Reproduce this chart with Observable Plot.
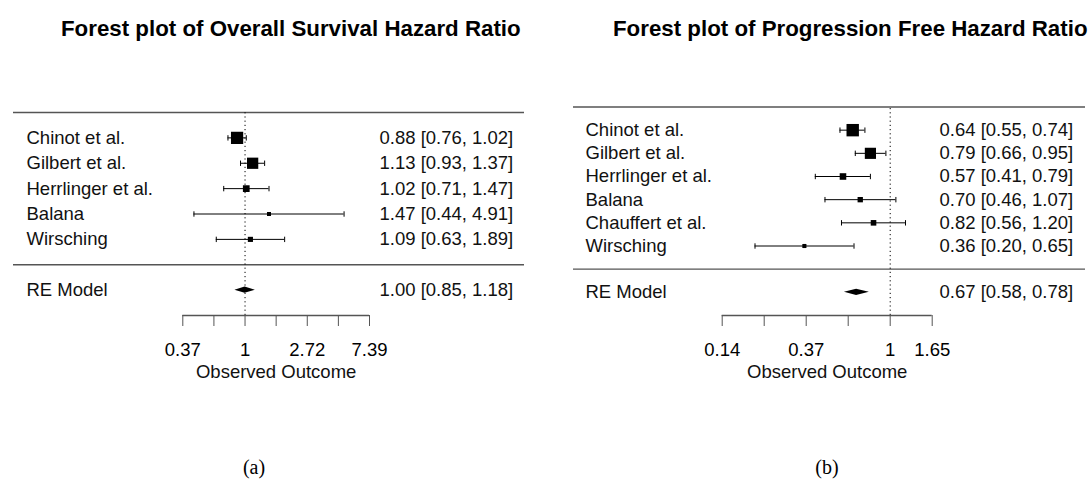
<!DOCTYPE html>
<html><head><meta charset="utf-8">
<script src="https://cdn.jsdelivr.net/npm/d3@7"></script>
<script src="https://cdn.jsdelivr.net/npm/@observablehq/plot@0.6"></script>
<style>
html,body{margin:0;padding:0;background:#fff;overflow:hidden}
#wrap{position:relative;width:1091px;height:479px;overflow:hidden;background:#fff;font-family:"Liberation Sans",Arial,Helvetica,sans-serif}
.panel{position:absolute;top:0}
.title{position:absolute;top:18px;font-weight:bold;font-size:22.3px;line-height:1;white-space:nowrap;color:#000}
.cap{position:absolute;top:457px;width:100px;text-align:center;font-family:"Liberation Serif","DejaVu Serif",serif;font-size:20px;line-height:1;color:#000}
g[aria-label="x-axis tick"]{stroke:#555}
</style></head><body><div id="wrap"></div>
<script>
// ---------- data: panel (a) Overall Survival ----------
const osTitle = "Forest plot of Overall Survival Hazard Ratio";
const osStudies = ["Chinot et al.", "Gilbert et al.", "Herrlinger et al.", "Balana", "Wirsching"];
const osHR    = [0.88, 1.13, 1.02, 1.47, 1.09];
const osLower = [0.76, 0.93, 0.71, 0.44, 0.63];
const osUpper = [1.02, 1.37, 1.47, 4.91, 1.89];
const osWeight = [1.00, 0.92, 0.55, 0.33, 0.42];   // relative square size
const osRE = {label: "RE Model", hr: 1.00, lo: 0.85, hi: 1.18};
const osTicks = [-1, -0.5, 0, 0.5, 1, 1.5, 2];     // natural-log scale
const osTickLabels = ["0.37", "", "1", "", "2.72", "", "7.39"];

// ---------- data: panel (b) Progression Free ----------
const pfTitle = "Forest plot of Progression Free Hazard Ratio";
const pfStudies = ["Chinot et al.", "Gilbert et al.", "Herrlinger et al.", "Balana", "Chauffert et al.", "Wirsching"];
const pfHR    = [0.64, 0.79, 0.57, 0.70, 0.82, 0.36];
const pfLower = [0.55, 0.66, 0.41, 0.46, 0.56, 0.20];
const pfUpper = [0.74, 0.95, 0.79, 1.07, 1.20, 0.65];
const pfWeight = [1.00, 0.90, 0.53, 0.43, 0.45, 0.33];
const pfRE = {label: "RE Model", hr: 0.67, lo: 0.58, hi: 0.78};
const pfTicks = [-2, -1.5, -1, -0.5, 0, 0.5];
const pfTickLabels = ["0.14", "", "0.37", "", "1", "1.65"];

const axisTitle = "Observed Outcome";
const captions = ["(a)", "(b)"];

const fmt = d3.format(".2f");
const capSymbol = {draw(ctx, size) { const h = Math.sqrt(size / Math.PI); ctx.moveTo(0, -h); ctx.lineTo(0, h); }};

function panel(cfg) {
  const k = cfg.studies.length;
  const rows = cfg.studies.map((s, i) => ({name: s, hr: cfg.hr[i], lo: cfg.lo[i], hi: cfg.hi[i], w: cfg.w[i], row: k - i}));
  const re = {name: cfg.re.label, hr: cfg.re.hr, lo: cfg.re.lo, hi: cfg.re.hi, row: -1};
  const all = rows.concat([re]);
  const h = cfg.diamondHalf;
  const diamond = [
    {x: Math.log(re.lo), y1: -1, y2: -1},
    {x: Math.log(re.hr), y1: -1 - h, y2: -1 + h},
    {x: Math.log(re.hi), y1: -1, y2: -1}
  ];
  const t0 = cfg.ticks[0], t1 = cfg.ticks[cfg.ticks.length - 1];
  return Plot.plot({
    width: cfg.width, height: 479,
    marginLeft: cfg.marginLeft, marginRight: cfg.marginRight, marginTop: cfg.marginTop, marginBottom: 164,
    style: {fontFamily: "Liberation Sans, Arial, Helvetica, sans-serif", fontSize: "18.5px", color: "#000", background: "transparent", overflow: "visible"},
    x: {domain: [t0, t1], range: cfg.xRange, ticks: cfg.ticks, tickFormat: d => cfg.tickLabels[cfg.ticks.indexOf(d)], tickSize: 11, tickPadding: 16, label: null},
    y: {domain: [-2, k + 1], axis: null},
    r: {type: "linear", domain: [0, 1], range: [0, cfg.rMax]},
    marks: [
      Plot.ruleY([k + 1, 0], {stroke: "#555", strokeWidth: 1.3}),
      Plot.ruleX([0], {x: d => d, y1: -2, y2: k + 1, stroke: "#000", strokeDasharray: "1.2,3"}),
      Plot.ruleY(rows, {y: "row", x1: d => Math.log(d.lo), x2: d => Math.log(d.hi), stroke: "#000", strokeWidth: 1}),
      Plot.dot(rows, {x: d => Math.log(d.lo), y: "row", symbol: capSymbol, r: 2.7, stroke: "#000", fill: "none", strokeWidth: 1}),
      Plot.dot(rows, {x: d => Math.log(d.hi), y: "row", symbol: capSymbol, r: 2.7, stroke: "#000", fill: "none", strokeWidth: 1}),
      Plot.dot(rows, {x: d => Math.log(d.hr), y: "row", r: "w", symbol: "square", fill: "#000", stroke: "none"}),
      Plot.areaY(diamond, {x: "x", y1: "y1", y2: "y2", fill: "#000", curve: "linear"}),
      Plot.text(all, {y: "row", text: "name", frameAnchor: "left", textAnchor: "start", dx: cfg.labelDx, fill: "#111"}),
      Plot.text(all, {y: "row", text: d => `${fmt(d.hr)} [${fmt(d.lo)}, ${fmt(d.hi)}]`, frameAnchor: "right", textAnchor: "end", dx: cfg.valueDx, fill: "#111"}),
      Plot.ruleY([-2], {x1: t0, x2: t1, stroke: "#555", strokeWidth: 1.3}),
      Plot.text([axisTitle], {x: (t0 + t1) / 2, text: d => d, frameAnchor: "bottom", lineAnchor: "middle", dy: 57, fill: "#111"})
    ]
  });
}

const wrap = document.getElementById("wrap");
function place(node, left, width) {
  const div = document.createElement("div");
  div.className = "panel";
  div.style.left = left + "px";
  div.style.width = width + "px";
  div.appendChild(node);
  wrap.appendChild(div);
}

place(panel({studies: osStudies, hr: osHR, lo: osLower, hi: osUpper, w: osWeight, re: osRE,
  ticks: osTicks, tickLabels: osTickLabels, width: 545, marginLeft: 13, marginRight: 21, marginTop: 112,
  xRange: [182.3, 369], rMax: 6.9, labelDx: 13, valueDx: -11.3, diamondHalf: 0.126}), 0, 545);

place(panel({studies: pfStudies, hr: pfHR, lo: pfLower, hi: pfUpper, w: pfWeight, re: pfRE,
  ticks: pfTicks, tickLabels: pfTickLabels, width: 546, marginLeft: 28, marginRight: 6, marginTop: 106.5,
  xRange: [176.7, 386.7], rMax: 7.0, labelDx: 12, valueDx: -12.3, diamondHalf: 0.138}), 545, 546);

function addDiv(cls, text, left) {
  const d = document.createElement("div");
  d.className = cls; d.textContent = text; d.style.left = left + "px";
  wrap.appendChild(d);
}
addDiv("title", osTitle, 61);
addDiv("title", pfTitle, 613);
addDiv("cap", captions[0], 204);
addDiv("cap", captions[1], 777);
</script></body></html>
